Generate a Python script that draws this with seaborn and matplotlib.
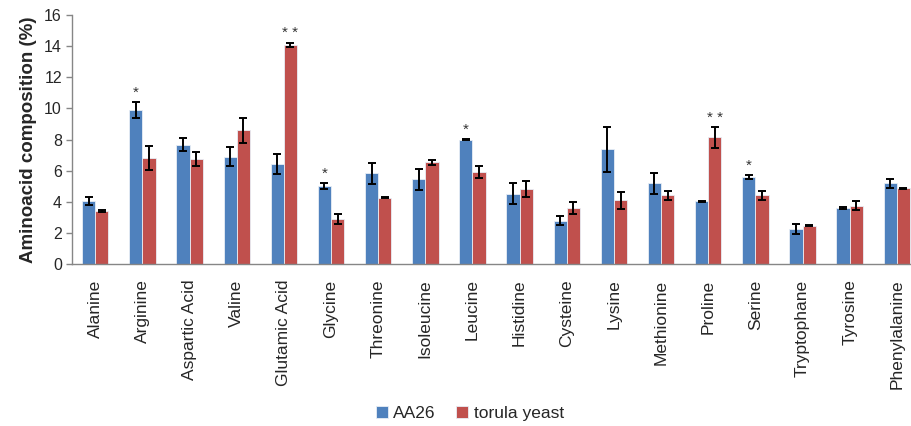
import pandas as pd
import seaborn as sns
import matplotlib.pyplot as plt

# Amino acid composition
amino_acids = ['Alanine', 'Arginine', 'Aspartic Acid', 'Valine', 'Glutamic Acid',
               'Glycine', 'Threonine', 'Isoleucine', 'Leucine', 'Histidine',
               'Cysteine', 'Lysine', 'Methionine', 'Proline', 'Serine',
               'Tryptophane', 'Tyrosine', 'Phenylalanine']
aa26 = [4.05, 9.9, 7.68, 6.9, 6.45, 5.03, 5.83, 5.44, 8.0, 4.52,
        2.8, 7.37, 5.2, 4.03, 5.59, 2.25, 3.58, 5.2]
aa26_err = [0.28, 0.5, 0.43, 0.6, 0.64, 0.2, 0.67, 0.69, 0.03, 0.68,
            0.3, 1.47, 0.67, 0.03, 0.13, 0.3, 0.07, 0.28]
torula = [3.43, 6.83, 6.75, 8.6, 14.1, 2.89, 4.28, 6.53, 5.91, 4.82,
          3.58, 4.11, 4.41, 8.14, 4.41, 2.47, 3.75, 4.88]
torula_err = [0.05, 0.75, 0.44, 0.82, 0.13, 0.3, 0.05, 0.13, 0.37, 0.51,
              0.38, 0.55, 0.3, 0.66, 0.3, 0.02, 0.28, 0.03]
# significance marks: (category, series, label)
stars = [('Arginine', 'AA26', '*'), ('Glutamic Acid', 'torula yeast', '* *'),
         ('Glycine', 'AA26', '*'), ('Leucine', 'AA26', '*'),
         ('Proline', 'torula yeast', '* *'), ('Serine', 'AA26', '*')]

series = ['AA26', 'torula yeast']
df = pd.DataFrame({
    'Amino acid': amino_acids * 2,
    'Series': ['AA26'] * len(amino_acids) + ['torula yeast'] * len(amino_acids),
    'Value': aa26 + torula,
})

sns.set_style('white')
plt.rcParams['font.family'] = ['Liberation Sans', 'DejaVu Sans']

fig = plt.figure(figsize=(9.12, 4.26), dpi=100)
ax = fig.add_axes([0.0786, 0.380, 0.9306, 0.5845])

sns.barplot(data=df, x='Amino acid', y='Value', hue='Series', order=amino_acids,
            hue_order=series, palette=['#4F81BD', '#C0504D'], width=0.56,
            errorbar=None, saturation=1, linewidth=0.6, edgecolor='#e8eef6', ax=ax)

# error bars, drawn at the bar centres seaborn chose
errs = {'AA26': aa26_err, 'torula yeast': torula_err}
tops = {}
for cont, name in zip(ax.containers, series):
    xs = [p.get_x() + p.get_width() / 2 for p in cont]
    hs = [p.get_height() for p in cont]
    ax.errorbar(xs, hs, yerr=errs[name], fmt='none', ecolor='black',
                elinewidth=1.4, capsize=3, capthick=1.4)
    for a, x, h, e in zip(amino_acids, xs, hs, errs[name]):
        tops[(a, name)] = (x, h + e)

for a, name, label in stars:
    x, y = tops[(a, name)]
    ax.text(x, y + 0.35, label, ha='center', va='baseline', fontsize=11, color='#333333')

ax.set_xlim(-0.5, len(amino_acids) - 0.5)
ax.set_ylim(0, 16)
ax.set_yticks(range(0, 17, 2))
ax.set_xlabel('')
ax.set_ylabel('Aminoacid composition (%)', fontsize=13.5, fontweight='bold', labelpad=5)

ax.set_xticks(range(len(amino_acids)))
ax.set_xticklabels(amino_acids, rotation=90, fontsize=12.5)
ax.set_xticks([i - 0.5 for i in range(len(amino_acids) + 1)], minor=True)
ax.tick_params(axis='x', which='major', length=0, pad=11)
ax.tick_params(axis='x', which='minor', length=5, color='#868686', width=1, direction='out')
ax.tick_params(axis='y', labelsize=11.5, length=4, color='#868686', width=1,
               direction='out', left=True, pad=3)

for side in ['top', 'right']:
    ax.spines[side].set_visible(False)
for side in ['left', 'bottom']:
    ax.spines[side].set_color('#868686')
    ax.spines[side].set_linewidth(1)

ax.legend(loc='center', bbox_to_anchor=(0.515, 0.03), bbox_transform=fig.transFigure,
          ncol=2, frameon=False, fontsize=12.5, handlelength=0.7, handleheight=0.7,
          handletextpad=0.3, columnspacing=1.2)

fig.savefig('out.png', dpi=100)
